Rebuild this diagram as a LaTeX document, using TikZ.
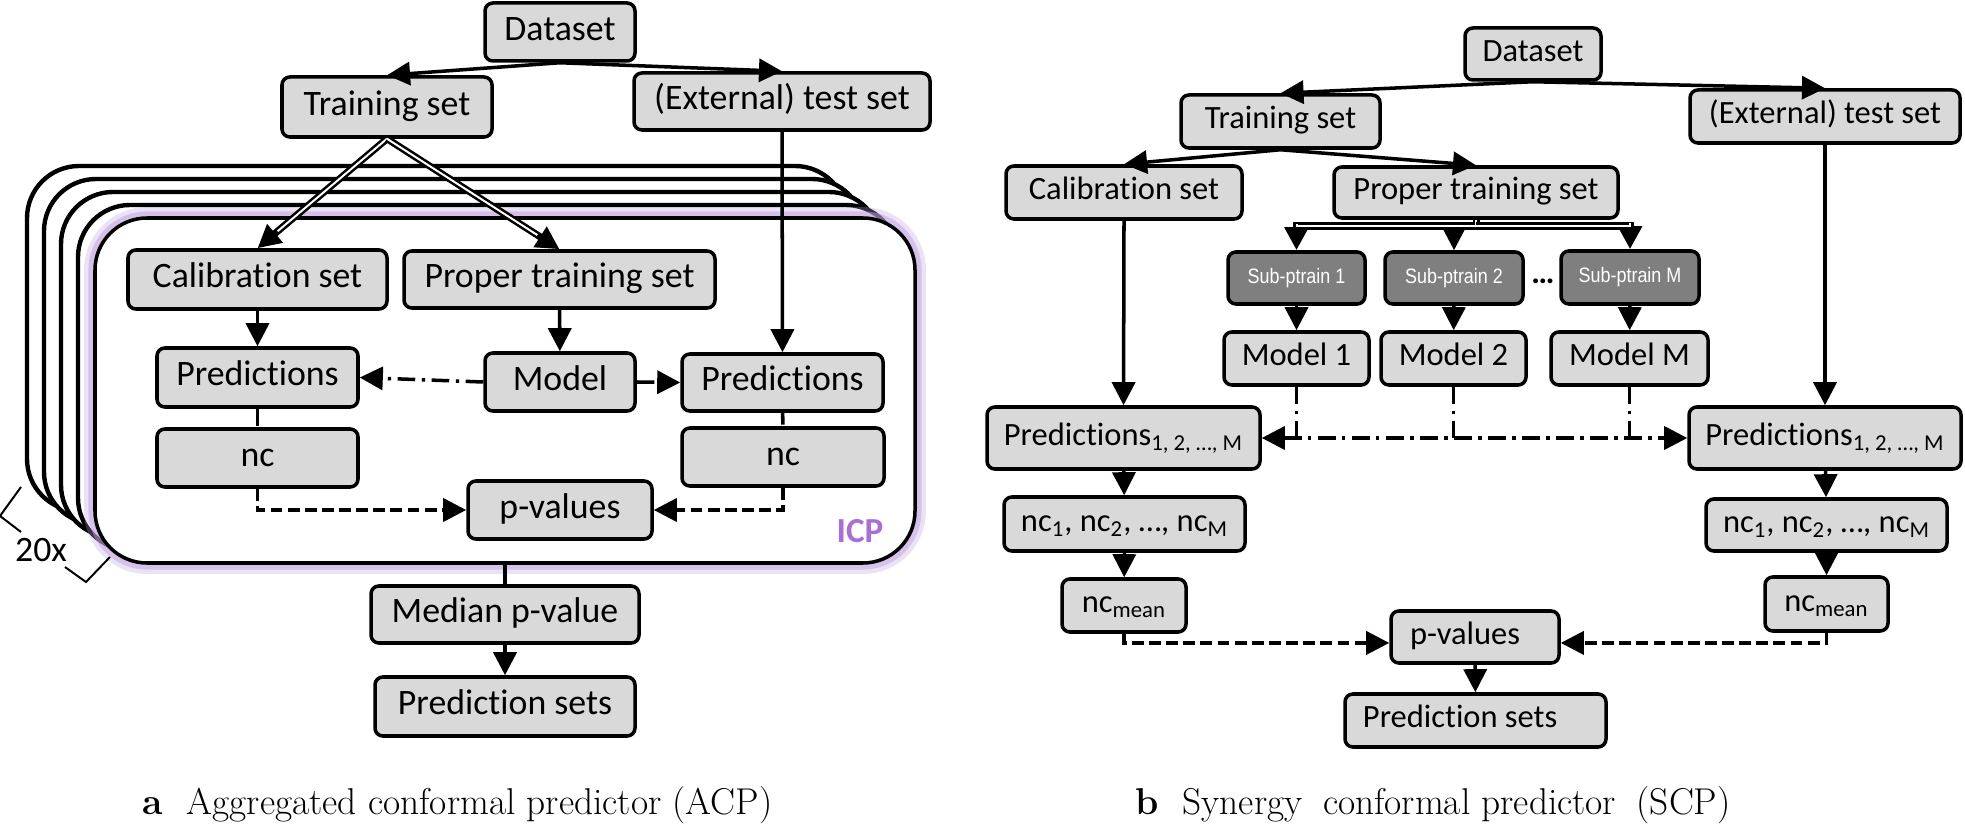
\documentclass[tikz,border=0pt]{standalone}
\usepackage{fontspec}
\newfontfamily\boxfont[Ligatures=NoCommon]{Carlito}
\newfontfamily\subfont[FakeStretch=0.86]{Liberation Sans}
\usepackage{tikz}
\usetikzlibrary{arrows.meta,positioning,calc}

\definecolor{boxgray}{RGB}{217,217,217}
\definecolor{subgray}{RGB}{127,127,127}
\definecolor{icpviolet}{RGB}{168,112,214}
\definecolor{icpglow}{RGB}{190,160,222}

\tikzset{
	sz/.style 2 args={minimum width=#1*0.016cm, minimum height=#2*0.016cm},
	box/.style={draw, fill=boxgray, rounded corners=3.6pt, line width=1.6pt, inner sep=0pt},
	boxA/.style={box, font=\boxfont\fontsize{16.3}{19}\selectfont, text height=11pt, text depth=3.5pt},
	boxB/.style={box, font=\boxfont\fontsize{14.8}{17}\selectfont, text height=10pt, text depth=3.2pt},
	subbox/.style={box, fill=subgray, text=white, font=\subfont\fontsize{9.5}{11}\selectfont},
	stackbox/.style={draw, fill=white, line width=2pt, rounded corners=23.7pt, sz={820}{345}},
	icpbox/.style={stackbox, line width=1.6pt,
		preaction={draw=icpglow, line width=10pt, opacity=0.3},
		preaction={draw=icpglow, line width=6pt, opacity=0.5}},
	link/.style={line width=1.6pt},
	dbl/.style={line width=3.2pt, ->, postaction={draw=white, line width=0.9pt, -, shorten >=12pt}},
	dashline/.style={link, dash pattern=on 5.4pt off 2.4pt},
	dashdot/.style={link, dash pattern=on 8pt off 3pt on 1.5pt off 3pt}
}

\begin{document}
\begin{tikzpicture}[x=0.016cm, y=-0.016cm, >={Triangle[length=10.5pt,width=10.5pt]}]
	\useasboundingbox (0,0) rectangle (1965,828);

	% a: aggregated conformal predictor
	\foreach \k in {4,3,2,1}
		\node[stackbox] at ({505-17*\k},{390.5-13*\k}) (icp\k) {};
	\node[icpbox] at (505,390.5) (icp) {};
	\node[text=icpviolet, font=\boxfont\bfseries\fontsize{16}{19}\selectfont] at (860,531) (icplabel) {ICP};

	\node[font=\boxfont\fontsize{16.3}{19}\selectfont] at (41,550) (stackcount) {20x};
	\draw[line width=0.9pt] (21,487) -- (0,516) -- (21,532);
	\draw[line width=0.9pt] (65,567) -- (86,582) -- (110,557);

	\node[boxA, sz={150}{58}] at (560,32) (dataA) {Dataset};
	\node[boxA, sz={210}{60}] at (387,107) (trainA) {Training set};
	\node[boxA, sz={296}{57}] at (782,101.5) (testA) {(External) test set};
	\node[boxA, sz={259}{59}] at (257.5,279.5) (calA) {Calibration set};
	\node[boxA, sz={311}{57}] at (559.5,279.5) (propA) {Proper training set};
	\node[boxA, sz={201}{59}] at (257.5,377.5) (predLA) {Predictions};
	\node[boxA, sz={150}{58}] at (560,382) (modelA) {Model};
	\node[boxA, sz={201}{57}] at (782.5,382.5) (predRA) {Predictions};
	\node[boxA, sz={201}{58}] at (257.5,458) (ncLA) {nc};
	\node[boxA, sz={202}{58}] at (783,457) (ncRA) {nc};
	\node[boxA, sz={184}{58}] at (560,510) (pvalA) {p-values};
	\node[boxA, sz={268}{57}] at (505,614.5) (medA) {Median p-value};
	\node[boxA, sz={260}{59}] at (505,706.5) (psetA) {Prediction sets};

	\draw[link,->] (dataA.south) -- (trainA.north);
	\draw[link,->] (dataA.south) -- (testA.north);
	\draw[dbl] (trainA.south) -- (calA.north);
	\draw[dbl] (trainA.south) -- (propA.north);
	\draw[link,->] (testA.south) -- (predRA.north);
	\draw[link,->] (calA) -- (predLA);
	\draw[link,->] (propA) -- (modelA);
	\draw[dashdot,->] (modelA.west) -- (predLA.east);
	\draw[dashdot,->] (modelA.east) -- (predRA.west);
	\draw[dashdot] (predLA) -- (ncLA);
	\draw[dashline] (predRA) -- (ncRA);
	\draw[dashline,->] (ncLA.south) |- (pvalA.west);
	\draw[dashline,->] (ncRA.south) |- (pvalA.east);
	\draw[link] (icp.south) -- (medA.north);
	\draw[link,->] (medA) -- (psetA);

	\node[anchor=base west, inner sep=0pt, font=\fontsize{17}{21}\selectfont] at (142,814) (capA)
		{\textbf{a}\hspace{0.64em}Aggregated conformal predictor (ACP)};

	% b: synergy conformal predictor
	\node[boxB, sz={136}{52}] at (1533,54) (dataB) {Dataset};
	\node[boxB, sz={199}{53}] at (1280.5,121.5) (trainB) {Training set};
	\node[boxB, sz={270}{53}] at (1825,116.5) (testB) {(External) test set};
	\node[boxB, sz={236}{53}] at (1124,192.5) (calB) {Calibration set};
	\node[boxB, sz={284}{51}] at (1476,192.5) (propB) {Proper training set};
	\node[subbox, sz={137}{52}] at (1296.5,278) (sub1) {Sub-ptrain 1};
	\node[subbox, sz={138}{52}] at (1454,278) (sub2) {Sub-ptrain 2};
	\node[subbox, sz={138}{53}] at (1630,277.5) (subM) {Sub-ptrain M};
	\node[font=\boxfont\bfseries\fontsize{14.8}{17}\selectfont] at (1543,281) (subdots) {…};
	\node[boxB, sz={145}{53}] at (1296.5,358.5) (mod1) {Model 1};
	\node[boxB, sz={145}{53}] at (1453.5,358.5) (mod2) {Model 2};
	\node[boxB, sz={157}{53}] at (1629.5,358.5) (modM) {Model M};
	\node[boxB, sz={273}{62}] at (1123.5,438) (predLB) {Predictions\textsubscript{1, 2, …, M}};
	\node[boxB, sz={272}{62}] at (1825,438) (predRB) {Predictions\textsubscript{1, 2, …, M}};
	\node[boxB, sz={241}{54}] at (1124.5,524) (ncLB) {nc\textsubscript{1}, nc\textsubscript{2}, …, nc\textsubscript{M}};
	\node[boxB, sz={241}{52}] at (1826.5,525) (ncRB) {nc\textsubscript{1}, nc\textsubscript{2}, …, nc\textsubscript{M}};
	\node[boxB, sz={124}{53}] at (1124,605.5) (meanLB) {nc\textsubscript{mean}};
	\node[boxB, sz={123}{54}] at (1826.5,604) (meanRB) {nc\textsubscript{mean}};
	\node[boxB, sz={168}{52}] at (1475,637) (pvalB) {p-values\hspace*{9pt}};
	\node[boxB, sz={261}{53}] at (1475.5,720.5) (psetB) {Prediction sets\hspace*{14pt}};

	\draw[link,->] (dataB.south) -- (trainB.north);
	\draw[link,->] (dataB.south) -- (testB.north);
	\draw[link,->] (trainB.south) -- (calB.north);
	\draw[link,->] (trainB.south) -- (propB.north);

	\coordinate (fork) at (1476,226);
	\draw[link,->] (sub2.north |- fork) -- (sub2.north);
	\draw[dbl] (propB.south) -- (fork) -| (sub1.north);
	\draw[dbl] (fork) -| (subM.north);
	\draw[link,->] (sub1) -- (mod1);
	\draw[link,->] (sub2) -- (mod2);
	\draw[link,->] (subM) -- (modM);

	\draw[link,->] (calB.south) -- (predLB.north);
	\draw[link,->] (testB.south) -- (predRB.north);
	\draw[dashdot] (mod1.south) -- (mod1.south |- predLB.east);
	\draw[dashdot] (mod2.south) -- (mod2.south |- predLB.east);
	\draw[dashdot] (modM.south) -- (modM.south |- predLB.east);
	\draw[dashdot,<->] (predLB.east) -- (predRB.west);

	\draw[link,->] (predLB) -- (ncLB);
	\draw[link,->] (ncLB) -- (meanLB);
	\draw[link,->] (predRB) -- (ncRB);
	\draw[link,->] (ncRB) -- (meanRB);
	\draw[dashline,->] (meanLB.south) |- ([yshift=-2.7pt]pvalB.west);
	\draw[dashline,->] (meanRB.south) |- ([yshift=-2.7pt]pvalB.east);
	\draw[link,->] (pvalB) -- (psetB);

	\node[anchor=base west, inner sep=0pt, font=\fontsize{17}{21}\selectfont] at (1135,814) (capB)
		{\textbf{b}\hspace{0.64em}Synergy\hspace{0.55em}conformal predictor\hspace{0.55em}(SCP)};
\end{tikzpicture}
\end{document}
